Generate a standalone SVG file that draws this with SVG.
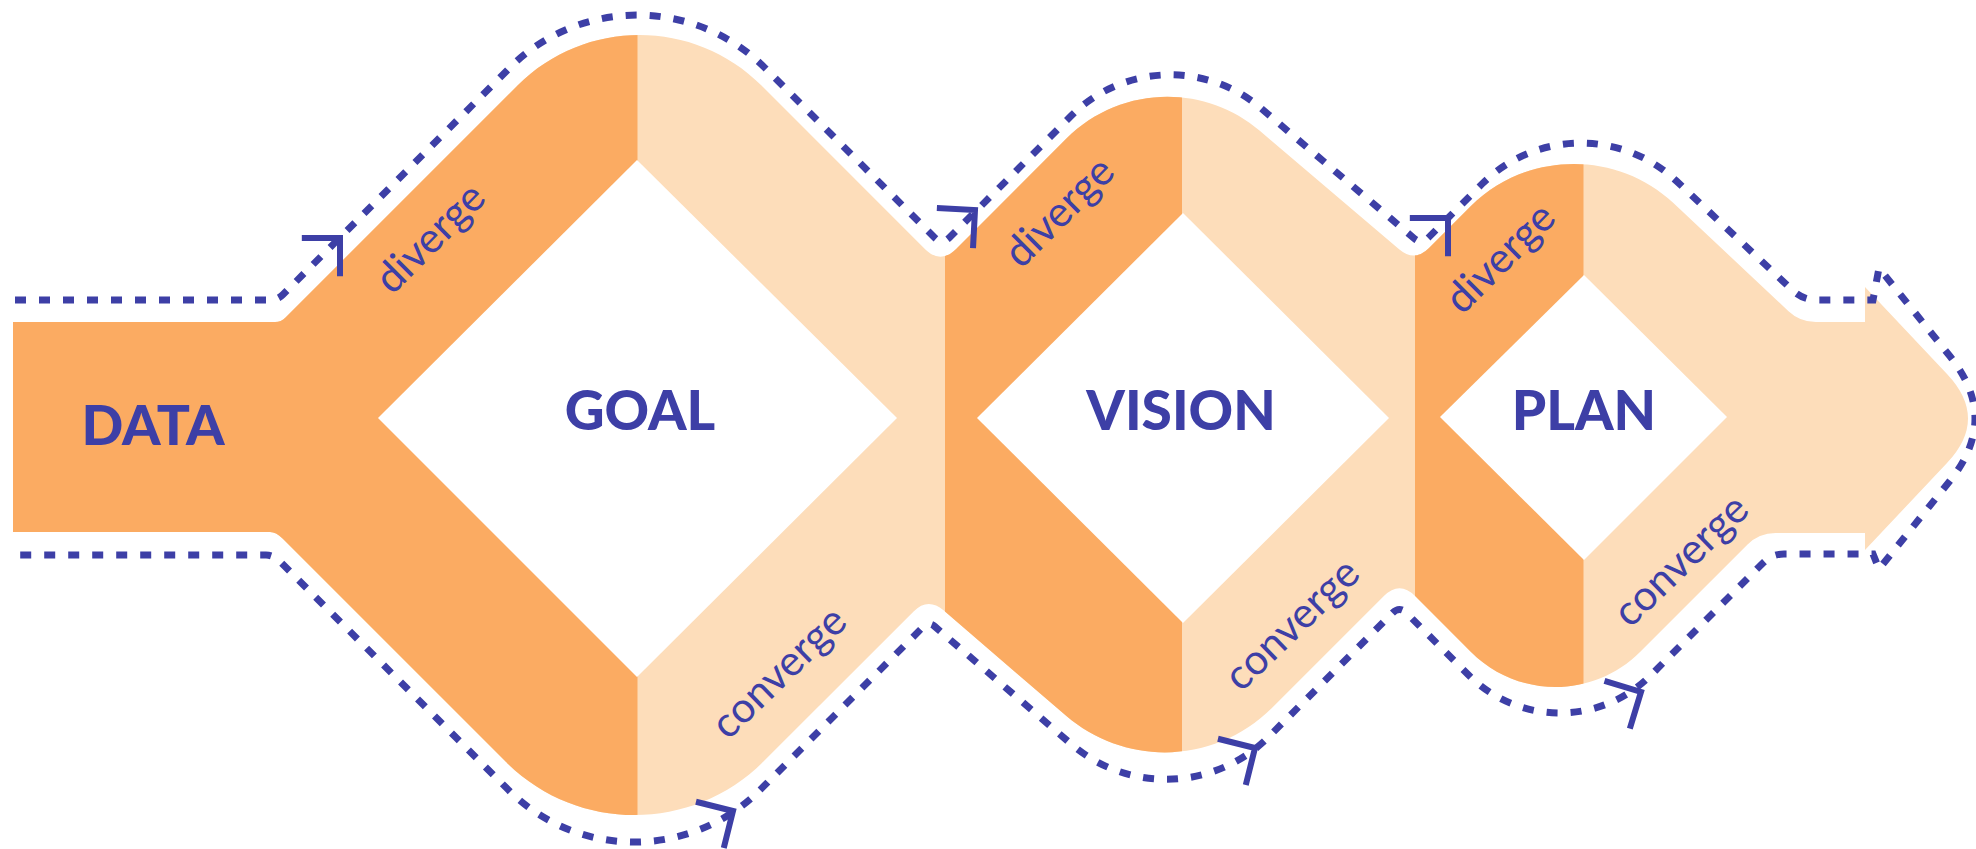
<svg xmlns="http://www.w3.org/2000/svg" xmlns:xlink="http://www.w3.org/1999/xlink" width="1976" height="849" viewBox="0 0 1976 849">
  <style>
    .light { fill: #FDDDBA; }
    .dark { fill: #FBAB62; }
    .diamond { fill: #FFFFFF; }
    .title { font-family: Lato, "Open Sans", "Liberation Sans", sans-serif; font-weight: 900; font-size: 55px; fill: #3D3FA6; text-anchor: middle; }
    .small { font-family: Lato, "Open Sans", "Liberation Sans", sans-serif; font-weight: 400; font-size: 42px; fill: #3D3FA6; text-anchor: middle; }
    .dash { fill: none; stroke: #3D3FA6; stroke-width: 7; stroke-dasharray: 11 13; }
    .chev { fill: none; stroke: #3D3FA6; stroke-width: 6; stroke-linejoin: miter; }
  </style>
  <defs>
    <path id="outline" d="M 13,322 L 275,322 Q 281,322 285.5,317.5 L 517.5,85.5 C 584.9,18.1 694.1,18.1 761.5,85.5 L 924.9,248.9 Q 940.5,264.5 956.1,248.9 L 1066.4,138.6 C 1119,86 1203.1,82.6 1259.8,130.8 L 1399.1,249.2 Q 1414.6,262.4 1429,248 L 1470.9,206.1 C 1525.9,151.1 1616.7,149.7 1673.4,203 L 1788.5,311.2 Q 1800,322 1815.8,322 L 1865,322 L 1865,287 L 1947,374 Q 1989,418.5 1947,463 L 1865,550 L 1865,533 L 1775.6,533 Q 1759,533 1747.3,544.7 L 1640,652 C 1593.3,698.7 1517.7,698.7 1471,652 L 1415.1,596.1 Q 1399.5,580.5 1383.9,596.1 L 1271.9,708.1 C 1215.9,764.1 1126.1,767.4 1066.1,715.8 L 943.5,610.3 Q 928,597 913.6,611.4 L 763.2,761.8 C 692.2,832.8 576.8,832.8 505.8,761.8 L 282,538 Q 276,532 270,532 L 13,532 Z"/>
    <clipPath id="bandClip">
      <use xlink:href="#outline" href="#outline"/>
    </clipPath>
    <path id="chevron" d="M -27,-27 L 0,0 L -27,27"/>
  </defs>

  <g id="band">
    <use xlink:href="#outline" href="#outline" class="light"/>
    <g clip-path="url(#bandClip)">
      <rect class="dark" x="0" y="0" width="637.5" height="849"/>
      <rect class="dark" x="945" y="0" width="237" height="849"/>
      <rect class="dark" x="1415" y="0" width="168.5" height="849"/>
    </g>
  </g>

  <g id="node-data">
    <text class="title" x="153" y="445">DATA</text>
  </g>

  <g id="node-goal">
    <polygon class="diamond" points="637,160 897,418 637,677 378,418"/>
    <text class="title" x="640" y="430">GOAL</text>
    <text class="small" transform="translate(440,248) rotate(-45)">diverge</text>
    <text class="small" transform="translate(788.6,682.6) rotate(-44)">converge</text>
  </g>

  <g id="node-vision">
    <polygon class="diamond" points="1183,213 1389,418 1183,623 977,418"/>
    <text class="title" x="1181" y="430">VISION</text>
    <text class="small" transform="translate(1069,222) rotate(-45)">diverge</text>
    <text class="small" transform="translate(1301.6,634.6) rotate(-44)">converge</text>
  </g>

  <g id="node-plan">
    <polygon class="diamond" points="1584,275 1727,417 1584,560 1440,417"/>
    <text class="title" x="1584" y="430">PLAN</text>
    <text class="small" transform="translate(1510,268) rotate(-45)">diverge</text>
    <text class="small" transform="translate(1690.6,570.6) rotate(-44)">converge</text>
  </g>

  <g id="connectors">
    <path class="dash" d="M 15,300 L 270,300 Q 277.5,300 283,294.5 L 509.6,67.9 C 580,-2.5 694.5,-2.5 764.9,67.9 L 935,238 Q 942,245 949,238 L 1071.2,115.8 C 1122.8,64.2 1205.4,60.9 1261,108.2 L 1414.4,238.6 Q 1421.4,244.6 1428.4,237.6 L 1482.1,183.9 C 1535.3,130.7 1621.4,129.3 1676.3,180.9 L 1792.7,290.4 Q 1802.9,300 1816.9,300 L 1873,300 L 1879,268 L 1950,356.3 Q 2000,418.5 1950,480.7 L 1879,569 L 1873,554 L 1784,554 Q 1772,554 1763.5,562.5 L 1650.7,675.3 C 1600.5,725.5 1519,725.5 1468.8,675.3 L 1406.5,613 Q 1399.5,606 1392.5,613 L 1268.6,736.9 C 1215,790.5 1129,793.7 1071.5,744.3 L 934.8,626.5 Q 928.7,621.3 923,627 L 760.1,789.9 C 690.6,859.4 577.9,859.4 508.4,789.9 L 280.5,562 Q 273.5,555 266,555 L 15,555"/>
    <use xlink:href="#chevron" href="#chevron" class="chev" transform="translate(340,238) rotate(-45)"/>
    <use xlink:href="#chevron" href="#chevron" class="chev" transform="translate(975,210) rotate(-42)"/>
    <use xlink:href="#chevron" href="#chevron" class="chev" transform="translate(1448,218) rotate(-45)"/>
    <use xlink:href="#chevron" href="#chevron" class="chev" transform="translate(733,811) rotate(-31)"/>
    <use xlink:href="#chevron" href="#chevron" class="chev" transform="translate(1255,748) rotate(-31)"/>
    <use xlink:href="#chevron" href="#chevron" class="chev" transform="translate(1641,692) rotate(-28)"/>
  </g>
</svg>
